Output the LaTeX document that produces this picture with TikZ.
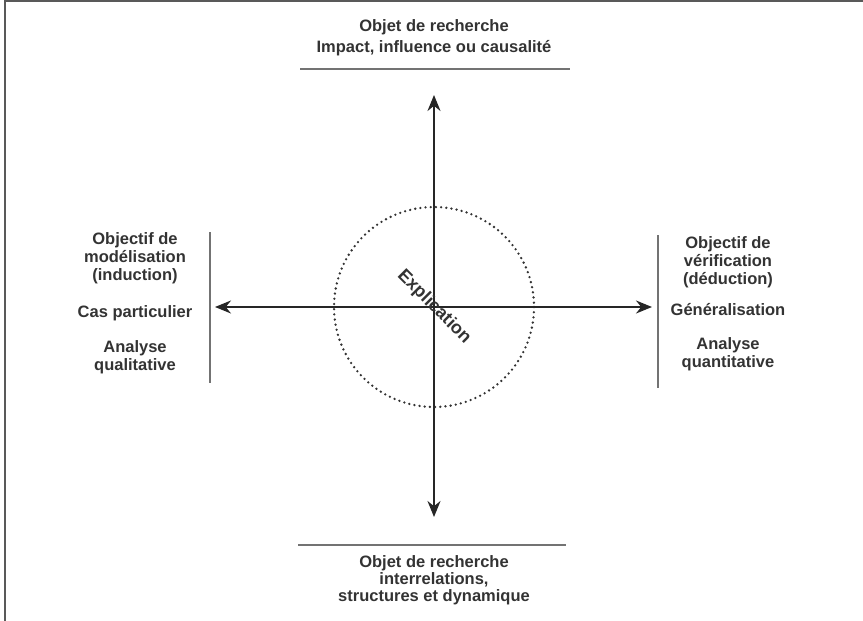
\documentclass[tikz,border=0pt]{standalone}
\usepackage{fontspec}
\setmainfont{Liberation Sans}
\usetikzlibrary{arrows.meta}

\begin{document}
\begin{tikzpicture}[x=1pt,y=-1pt,
  label/.style={align=center,text=black!80,font=\bfseries\fontsize{16.5}{18}\selectfont},
  rule/.style={draw=black!55,line width=2pt},
  axis/.style={draw=black!85,line width=2pt,{Stealth[length=16pt,width=13pt]}-{Stealth[length=16pt,width=13pt]}}]
\useasboundingbox (0,0) rectangle (863,621);
\draw[black!65,line width=2pt] (5,621) -- (5,1) -- (863,1);
\coordinate (origin) at (434,307);
\coordinate (top) at (434,95);
\coordinate (bottom) at (434,517);
\coordinate (left) at (215,307);
\coordinate (right) at (652,307);
\draw[black!80,line width=2.6pt,line cap=round,dash pattern=on 0pt off 5.2pt] (origin) circle (100);
\draw[axis] (top) -- (bottom);
\draw[axis] (left) -- (right);
\node[label,rotate=-45,font=\bfseries\fontsize{18}{20}\selectfont] (explication) at (origin) {Explication};
\node[label,font=\bfseries\fontsize{16.5}{21}\selectfont] (researchtop) at (434,38) {Objet de recherche\\Impact, influence ou causalité};
\draw[rule] (300,69) -- (570,69);
\draw[rule] (298,545) -- (566,545);
\node[label,font=\bfseries\fontsize{16.5}{17}\selectfont] (researchbottom) at (434,580) {Objet de recherche\\interrelations,\\structures et dynamique};
\draw[rule] (210,232) -- (210,383);
\draw[rule] (658,235) -- (658,388);
\foreach \name/\xpos/\ypos/\text in {modelling/135/258/{Objectif de\\modélisation\\(induction)}, particular/135/313/{Cas particulier}, qualitative/135/357/{Analyse\\qualitative}, verification/728/262/{Objectif de\\vérification\\(déduction)}, general/728/310/{Généralisation}, quantitative/728/354/{Analyse\\quantitative}}
  \node[label] (\name) at (\xpos,\ypos) {\text};
\end{tikzpicture}
\end{document}
